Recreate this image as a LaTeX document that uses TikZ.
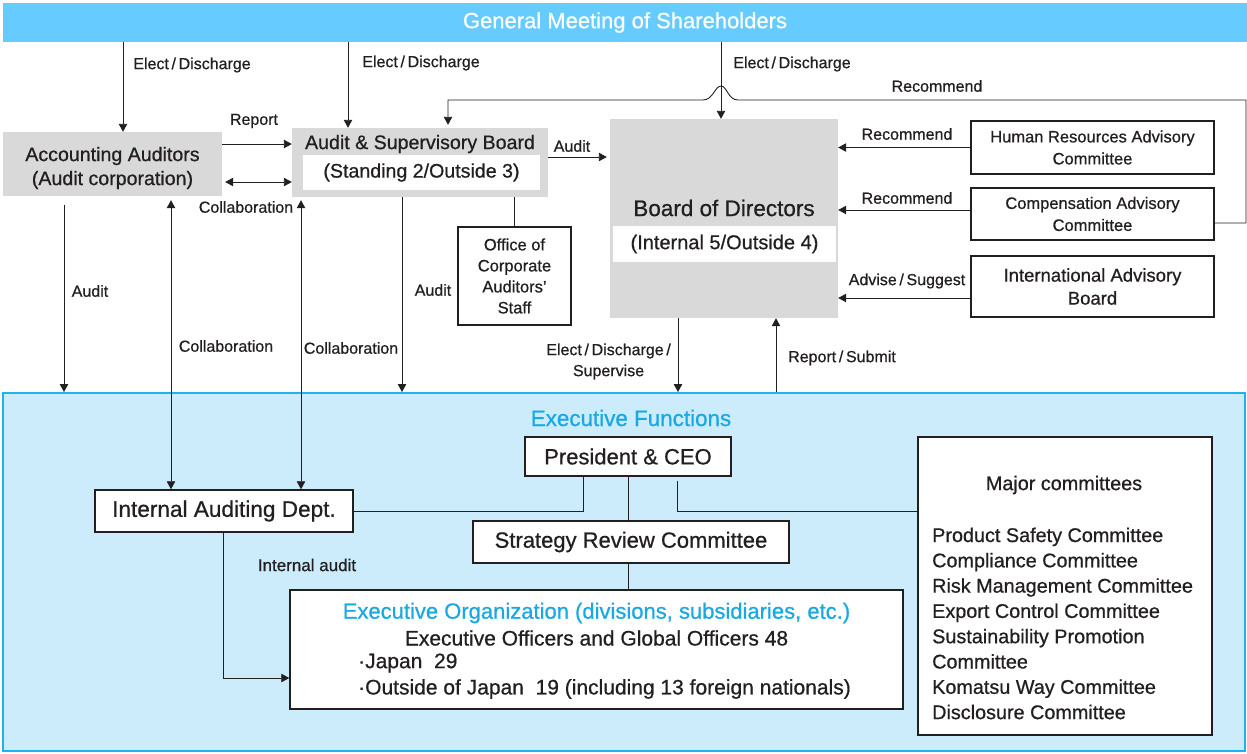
\documentclass[tikz,border=0pt]{standalone}
\usepackage{fontspec}
\setmainfont{Liberation Sans}[FakeBold=0.7]
\usetikzlibrary{arrows.meta}
\definecolor{ink}{RGB}{35,31,32}
\definecolor{boxgray}{RGB}{217,217,217}
\definecolor{barblue}{RGB}{102,204,255}
\definecolor{execbg}{RGB}{204,235,251}
\definecolor{execline}{RGB}{30,178,240}
\definecolor{cyantext}{RGB}{26,168,226}
\newcommand\fsz[2]{\fontsize{#1}{#2}\selectfont}

\begin{document}
\begin{tikzpicture}
[x=1pt,y=-1pt,%
  every node/.style={text=ink,inner sep=0pt,align=center},%
  >={Triangle[length=8pt,width=8.5pt]},%
  conn/.style={draw=ink,line width=0.9pt},%
  graybox/.style={fill=boxgray},%
  whitebox/.style={fill=white},%
  linebox/.style={draw=ink,fill=white,line width=1.5pt},%
  lbl/.style={font=\fsz{16}{21}},%
  boxtitle/.style={font=\fsz{19.6}{24}}]
\useasboundingbox (0,0) rectangle (1247,753);
\node[fill=execbg,draw=execline,line width=2pt,minimum width=1242pt,minimum height=358pt] (exec) at (624,572) {};
\node[fill=barblue,minimum width=1244pt,minimum height=39pt,text=white,font=\fsz{22}{26}] (gms) at (625,22.5) {General Meeting of Shareholders};

\node[graybox,minimum width=219pt,minimum height=64pt] (acc) at (112.5,164) {};
\node[boxtitle] (acctext) at (112.5,168) {Accounting Auditors\\(Audit corporation)};
\node[graybox,minimum width=256pt,minimum height=69pt] (asb) at (420,162.5) {};
\node[boxtitle] (asbtitle) at (420,144) {Audit \& Supervisory Board};
\node[whitebox,boxtitle,minimum width=237pt,minimum height=35pt] (asbsub) at (421.5,172.5) {(Standing 2/Outside 3)};
\node[graybox,minimum width=228pt,minimum height=199pt] (bod) at (724,218.5) {};
\node[font=\fsz{22.5}{26}] (bodtitle) at (724,208) {Board of Directors};
\node[whitebox,font=\fsz{20}{24},minimum width=223pt,minimum height=36pt] (bodsub) at (724.5,244) {(Internal 5/Outside 4)};

\node[linebox,font=\fsz{16.5}{22},minimum width=243pt,minimum height=53pt] (hr) at (1092.5,147.5) {Human Resources Advisory\\Committee};
\node[linebox,font=\fsz{16.5}{22},minimum width=243pt,minimum height=52pt] (comp) at (1092.5,214) {Compensation Advisory\\Committee};
\node[linebox,font=\fsz{18.5}{23},minimum width=243pt,minimum height=61pt] (iab) at (1092.5,286.5) {International Advisory\\Board};
\node[linebox,font=\fsz{16.5}{21},minimum width=113pt,minimum height=98pt] (office) at (514.5,276) {Office of\\Corporate\\Auditors'\\Staff};

\node[font=\fsz{22.4}{26},text=cyantext] (exectitle) at (631,418) {Executive Functions};
\node[linebox,font=\fsz{22}{26},minimum width=206pt,minimum height=39pt] (pres) at (628,456.5) {President \& CEO};
\node[linebox,font=\fsz{22.6}{26},minimum width=258pt,minimum height=42pt] (iad) at (224,511) {Internal Auditing Dept.};
\node[linebox,font=\fsz{22}{26},minimum width=316pt,minimum height=42pt] (src) at (631,542) {Strategy Review Committee};
\node[linebox,minimum width=613pt,minimum height=119pt] (exorg) at (596.5,649.5) {};
\node[font=\fsz{22}{26},text=cyantext] (exorgtitle) at (596.5,613) {Executive Organization~(divisions, subsidiaries, etc.)};
\node[font=\fsz{21}{25}] (officers) at (596.5,638) {Executive Officers and Global Officers 48};
\node[font=\fsz{21}{25},anchor=west] (japan) at (358,663) {·Japan~~29};
\node[font=\fsz{21}{25},anchor=west] (abroad) at (358,689) {·Outside of Japan~~19~(including 13 foreign nationals)};

\node[linebox,minimum width=294pt,minimum height=298pt] (major) at (1065,586) {};
\node[font=\fsz{19.8}{24}] (majortitle) at (1064,485) {Major committees};
\foreach \cname [count=\i] in {Product Safety Committee,Compliance Committee,Risk Management Committee,Export Control Committee,Sustainability Promotion,Committee,Komatsu Way Committee,Disclosure Committee}
  \node[font=\fsz{19.8}{24},anchor=base west] (mc\i) at (932,{542+25.3*(\i-1)}) {\cname};

\node[lbl] (elect1) at (192,65) {Elect\,/\,Discharge};
\node[lbl] (elect2) at (421,63) {Elect\,/\,Discharge};
\node[lbl] (elect3) at (792,64) {Elect\,/\,Discharge};
\node[lbl] (rec1) at (937,86) {Recommend};
\node[lbl] (report) at (254,121) {Report};
\node[lbl] (collab1) at (246,207) {Collaboration};
\node[lbl] (audit1) at (572,146) {Audit};
\node[lbl] (rec2) at (907,134) {Recommend};
\node[lbl] (rec3) at (907,198) {Recommend};
\node[lbl] (advise) at (907,281) {Advise\,/\,Suggest};
\node[lbl] (audit2) at (90,291) {Audit};
\node[lbl] (collab2) at (226,346) {Collaboration};
\node[lbl] (collab3) at (351,348) {Collaboration};
\node[lbl] (audit3) at (433,290) {Audit};
\node[lbl,anchor=east] (supervise) at (671,361.5) {Elect\,/\,Discharge\,/\\Supervise};
\node[lbl] (submit) at (842,358) {Report\,/\,Submit};
\node[font=\fsz{17}{21}] (intaudit) at (307,565) {Internal audit};

\coordinate (accin) at ([xshift=10.5pt]acc.north);
\coordinate (asbin) at ([xshift=-72pt]asb.north);
\coordinate (bodin) at ([xshift=-3pt]bod.north);
\draw[conn,->] (gms.south -| accin) -- (accin);
\draw[conn,->] (gms.south -| asbin) -- (asbin);
\draw[conn,->] (gms.south -| bodin) -- (bodin);

\coordinate (compout) at ([yshift=-9pt]comp.east);
\coordinate (asbrec) at ([xshift=28pt,yshift=3pt]asb.north);
\coordinate (loop) at (1246,100);
\coordinate (hopmid) at (bodin |- loop);
\draw[conn,->] (compout) -| (loop) -- ([xshift=17pt]hopmid)
  .. controls +(-10,0) and +(6,0) .. ([yshift=14pt]hopmid)
  .. controls +(-6,0) and +(10,0) .. ([xshift=-18pt]hopmid)
  -- (asbrec |- loop) -- (asbrec);

\coordinate (rep) at ([yshift=20pt]acc.east);
\draw[conn,->] (rep) -- (rep -| asb.west);
\coordinate (collab) at ([xshift=3pt,yshift=-18pt]acc.east);
\draw[conn,<->] (collab) -- (collab -| asb.west);
\coordinate (asbaud) at ([yshift=5.5pt]asb.east);
\draw[conn,->,shorten >=3pt] (asbaud) -- (asbaud -| bod.west);

\draw[conn,->] (hr.west) -- (hr.west -| bod.east);
\coordinate (compin) at ([yshift=4pt]comp.west);
\draw[conn,->] (compin) -- (compin -| bod.east);
\coordinate (iabin) at ([yshift=-11.5pt]iab.west);
\draw[conn,->] (iabin) -- (iabin -| bod.east);

\coordinate (accaud) at ([xshift=-48.5pt,yshift=-9pt]acc.south);
\draw[conn,->] (accaud) -- (accaud |- exec.north);
\coordinate (acccol) at ([xshift=58.5pt,yshift=-4pt]acc.south);
\draw[conn,<->] (acccol) -- (acccol |- iad.north);
\coordinate (asbcol) at ([xshift=-119pt,yshift=-3pt]asb.south);
\draw[conn,<->] (asbcol) -- (asbcol |- iad.north);
\coordinate (asbaud2) at ([xshift=-18pt]asb.south);
\draw[conn,->] (asbaud2) -- (asbaud2 |- exec.north);
\draw[conn] (office.north) -- (office.north |- asb.south);

\coordinate (bodsup) at ([xshift=-46pt]bod.south);
\draw[conn,->] (bodsup) -- (bodsup |- exec.north);
\coordinate (bodrep) at ([xshift=52pt]bod.south);
\draw[conn,<-] (bodrep) -- (bodrep |- exec.north);

\draw[conn] (iad.east) -| ([xshift=-45pt]pres.south);
\draw[conn] (pres.south) -- (pres.south |- src.north);
\coordinate (presmc) at ([xshift=49pt,yshift=-4pt]pres.south);
\draw[conn] (presmc) |- (iad.east -| major.west);
\draw[conn] (pres.south |- src.south) -- (pres.south |- exorg.north);
\coordinate (iadaud) at ([xshift=-1pt]iad.south);
\coordinate (exorgin) at ([yshift=-28.5pt]exorg.west);
\draw[conn,->] (iadaud) |- (exorgin);
\end{tikzpicture}
\end{document}
